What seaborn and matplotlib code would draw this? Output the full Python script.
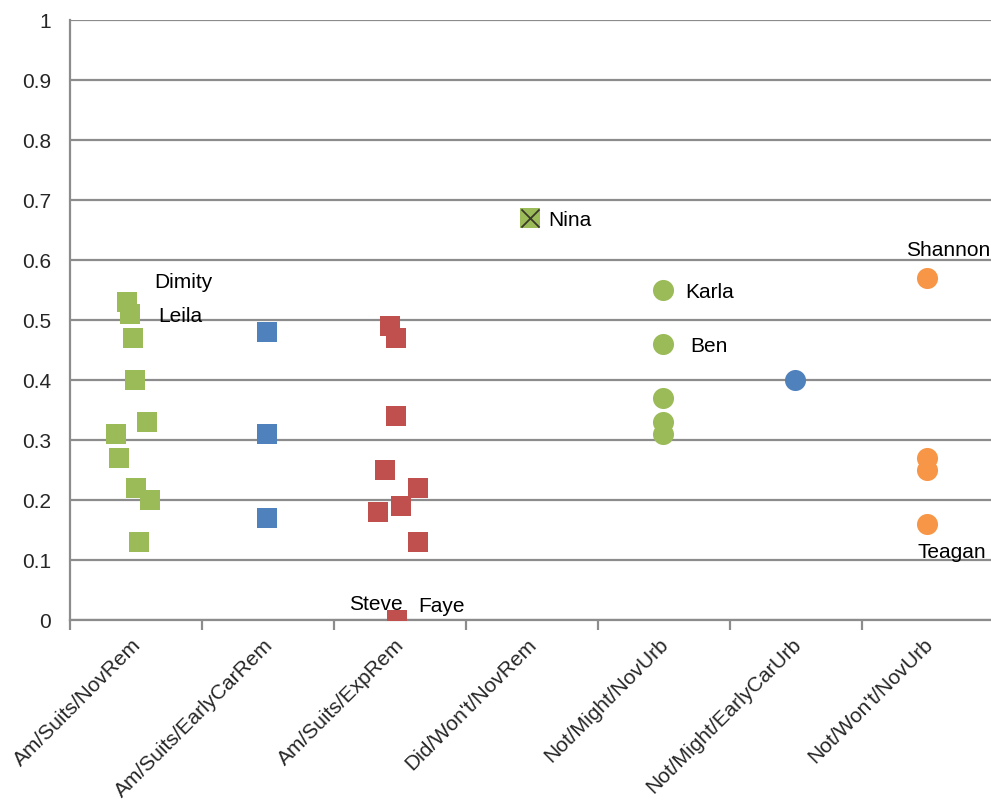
import matplotlib
matplotlib.use("Agg")
import matplotlib.pyplot as plt
import matplotlib.transforms as mtransforms
import seaborn as sns
import pandas as pd

# Category names along the x axis
categories = ["Am/Suits/NovRem", "Am/Suits/EarlyCarRem", "Am/Suits/ExpRem",
              "Did/Won't/NovRem", "Not/Might/NovUrb", "Not/Might/EarlyCarUrb",
              "Not/Won't/NovUrb"]

# Scores per group, with a small horizontal spread within each category
nov_rem_y = [0.53, 0.51, 0.47, 0.40, 0.33, 0.31, 0.27, 0.22, 0.20, 0.13]
nov_rem_dx = [-0.07, -0.045, -0.02, -0.01, 0.085, -0.15, -0.13, 0.0, 0.105, 0.025]

early_rem_y = [0.48, 0.31, 0.17]
early_rem_dx = [-0.01, -0.01, -0.01]

exp_rem_y = [0.49, 0.47, 0.34, 0.25, 0.22, 0.19, 0.18, 0.13, 0.00]
exp_rem_dx = [-0.075, -0.03, -0.03, -0.11, 0.135, 0.01, -0.165, 0.135, -0.02]

did_wont_y = [0.67]
did_wont_dx = [-0.015]

nov_urb_y = [0.55, 0.46, 0.37, 0.33, 0.31]
nov_urb_dx = [-0.01, -0.01, -0.01, -0.01, -0.01]

early_urb_y = [0.40]
early_urb_dx = [-0.01]

wont_urb_y = [0.57, 0.27, 0.25, 0.16]
wont_urb_dx = [-0.01, -0.01, -0.01, -0.01]

GREEN = "#9BBB59"
BLUE = "#4F81BD"
RED = "#C0504D"
ORANGE = "#F79646"

series = [
    (0, nov_rem_y, nov_rem_dx, GREEN, "s"),
    (1, early_rem_y, early_rem_dx, BLUE, "s"),
    (2, exp_rem_y, exp_rem_dx, RED, "s"),
    (3, did_wont_y, did_wont_dx, GREEN, "s"),
    (4, nov_urb_y, nov_urb_dx, GREEN, "o"),
    (5, early_urb_y, early_urb_dx, BLUE, "o"),
    (6, wont_urb_y, wont_urb_dx, ORANGE, "o"),
]

# Named respondents: (category, value, dx, label, text offset in pixels, ha)
names = [
    (0, 0.53, -0.07, "Dimity", (27, 19), "left"),
    (0, 0.51, -0.045, "Leila", (28, -3), "left"),
    (3, 0.67, -0.015, "Nina", (18, -3), "left"),
    (4, 0.55, -0.01, "Karla", (23, -3), "left"),
    (4, 0.46, -0.01, "Ben", (28, -3), "left"),
    (6, 0.57, -0.01, "Shannon", (-21, 27), "left"),
    (6, 0.16, -0.01, "Teagan", (-9, -28), "left"),
    (2, 0.00, -0.02, "Steve", (5, 15), "right"),
    (2, 0.00, -0.02, "Faye", (21, 14), "left"),
]

sns.set_style("white")
plt.rcParams["font.family"] = ["Liberation Sans", "DejaVu Sans"]

fig = plt.figure(figsize=(9.91, 8.02), dpi=100)
ax = fig.add_axes([70 / 991, (802 - 620) / 802, 921 / 991, 600 / 802])

GRID = "#8C8C8C"
for i, ys, dxs, color, marker in series:
    df = pd.DataFrame({"x": [i + d for d in dxs], "y": ys})
    size = 210 if marker == "s" else 230
    sns.scatterplot(data=df, x="x", y="y", color=color, marker=marker,
                    s=size, linewidth=0, ax=ax, zorder=3, legend=False)

# Cross drawn over the Did/Won't/NovRem square
nina = pd.DataFrame({"x": [3 + did_wont_dx[0]], "y": did_wont_y})
sns.scatterplot(data=nina, x="x", y="y", color="#3a3a2a", marker="x",
                s=170, linewidth=1.3, ax=ax, zorder=4, legend=False)

for i, v, dx, label, off, ha in names:
    ax.annotate(label, xy=(i + dx, v), xytext=off, textcoords="offset pixels",
                ha=ha, va="center", fontsize=15, color="black", zorder=5)

ax.set_xlim(-0.5, 6.5 - 3 / 132)
ax.set_ylim(0, 1)
ax.set_yticks([k / 10 for k in range(11)])
ax.set_yticklabels(["0", "0.1", "0.2", "0.3", "0.4", "0.5", "0.6", "0.7",
                    "0.8", "0.9", "1"])
ax.yaxis.grid(True, color=GRID, linewidth=1.6)
ax.xaxis.grid(False)
ax.set_axisbelow(True)

ax.set_xticks(range(len(categories)))
ax.set_xticklabels(categories, rotation=45, ha="right", rotation_mode="anchor")
ax.set_xticks([k - 0.5 for k in range(len(categories))], minor=True)
ax.tick_params(axis="x", which="major", length=0, pad=11, labelsize=15)
ax.tick_params(axis="x", which="minor", length=7, width=1.6, color=GRID,
               direction="out", bottom=True)
ax.tick_params(axis="y", length=0, pad=13.5, labelsize=15)

# Nudge the rotated category labels slightly to the left
shift = mtransforms.ScaledTranslation(-5 / 100, 0, fig.dpi_scale_trans)
for lbl in ax.get_xticklabels():
    lbl.set_transform(lbl.get_transform() + shift)

for side in ["top", "right"]:
    ax.spines[side].set_visible(False)
for side in ["left", "bottom"]:
    ax.spines[side].set_color(GRID)
    ax.spines[side].set_linewidth(1.6)

ax.set_xlabel("")
ax.set_ylabel("")

fig.savefig("out.png", dpi=100)
